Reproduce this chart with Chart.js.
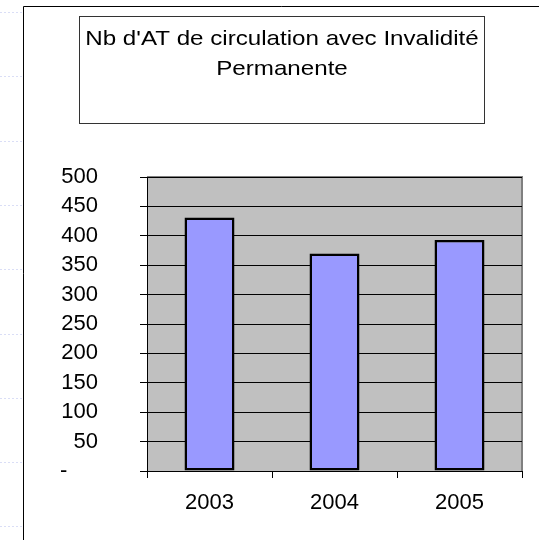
<!DOCTYPE html>
<html>
<head>
<meta charset="utf-8">
<script src="https://cdn.jsdelivr.net/npm/chart.js@4"></script>
<style>
  html, body { margin: 0; padding: 0; background: #fff; }
  canvas { display: block; }
</style>
</head>
<body>
<canvas id="graficaAT" width="539" height="540"></canvas>
<script>
    const annees = ['2003', '2004', '2005'];
    const nbAT = [431, 370, 393];
    const titreLignes = ["Nb d'AT de circulation avec Invalidité", 'Permanente'];

    const police = "'Liberation Sans', Arial, sans-serif";

    // fond de la diapo : cadre, boite du titre, zone grise
    const decor = {
        id: 'decor',
        beforeDraw(chart) {
            const ctx = chart.ctx;
            const a = chart.chartArea;
            ctx.save();
            ctx.fillStyle = '#fff';
            ctx.fillRect(0, 0, chart.width, chart.height);

            // petits pointilles bleus de la diapo
            ctx.strokeStyle = 'rgba(150,160,230,0.35)';
            ctx.setLineDash([2, 2]);
            for (let y = 12; y < chart.height; y += 64.3) {
                ctx.beginPath();
                ctx.moveTo(0, Math.round(y) + 0.5);
                ctx.lineTo(22, Math.round(y) + 0.5);
                ctx.stroke();
            }
            ctx.setLineDash([]);

            // cadre
            ctx.strokeStyle = '#000';
            ctx.lineWidth = 1;
            ctx.beginPath();
            ctx.moveTo(23.5, chart.height);
            ctx.lineTo(23.5, 6.5);
            ctx.lineTo(chart.width, 6.5);
            ctx.stroke();

            // boite du titre
            ctx.strokeStyle = '#333';
            ctx.strokeRect(79.5, 16.5, 405, 107);
            ctx.fillStyle = '#000';
            ctx.font = '21px ' + police;
            ctx.textAlign = 'center';
            ctx.textBaseline = 'alphabetic';
            ctx.save();
            ctx.translate(282, 0);
            ctx.scale(1.15, 1);
            ctx.fillText(titreLignes[0], 0, 45);
            ctx.fillText(titreLignes[1], 0, 75);
            ctx.restore();

            // zone de tracé
            ctx.fillStyle = '#c0c0c0';
            ctx.fillRect(a.left, a.top, a.right - a.left, a.bottom - a.top);
            ctx.strokeStyle = '#808080';
            ctx.lineWidth = 2;
            ctx.beginPath();
            ctx.moveTo(a.left, a.top);
            ctx.lineTo(a.right, a.top);
            ctx.lineTo(a.right, a.bottom);
            ctx.stroke();
            ctx.restore();
        }
    };

    new Chart(document.getElementById('graficaAT'), {
        type: 'bar',
        data: {
            labels: annees,
            datasets: [{
                data: nbAT,
                backgroundColor: '#9999ff',
                borderColor: '#000',
                borderWidth: 2.5,
                borderSkipped: false,
                barPercentage: 0.4,
                categoryPercentage: 1
            }]
        },
        options: {
            responsive: false,
            animation: false,
            layout: { padding: { top: 177, left: 0, right: 17, bottom: 0 } },
            plugins: {
                legend: { display: false },
                title: { display: false },
                tooltip: { enabled: false }
            },
            scales: {
                y: {
                    min: 0,
                    max: 500,
                    afterFit: s => { s.width = 147; },
                    ticks: {
                        stepSize: 50,
                        color: '#000',
                        padding: 42,
                        font: { family: police, size: 22 },
                        callback: v => v === 0 ? '-     ' : v
                    },
                    grid: { color: '#000', lineWidth: 1, tickLength: 7 },
                    border: { color: '#000', width: 1 }
                },
                x: {
                    afterFit: s => { s.height = 69; },
                    ticks: {
                        color: '#000',
                        padding: 12,
                        font: { family: police, size: 22 }
                    },
                    grid: { offset: true, drawOnChartArea: false, color: '#000', tickLength: 7 },
                    border: { color: '#000', width: 1 }
                }
            }
        },
        plugins: [decor]
    });
</script>
</body>
</html>
